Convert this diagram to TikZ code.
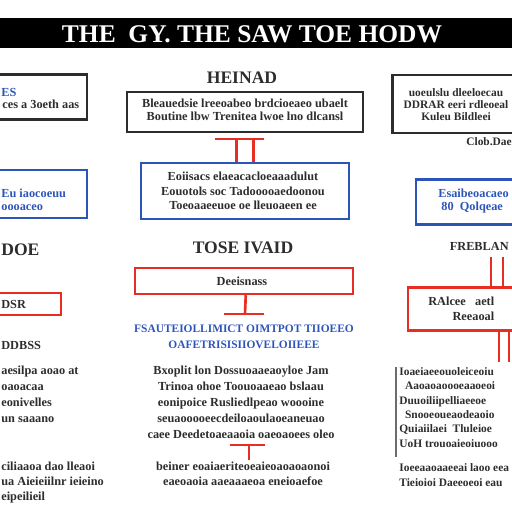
\documentclass[tikz,border=0pt]{standalone}
\usepackage{fontspec}
\usepackage{xcolor}
\setmainfont{Liberation Serif}
\definecolor{diag-ink}{RGB}{45,45,45}
\definecolor{diag-blue}{RGB}{45,85,185}
\definecolor{diag-red}{RGB}{232,45,35}
\tikzset{
    black-box/.style = {draw=diag-ink, line width=1.2pt, rectangle, inner sep=0pt},
    blue-box/.style = {draw=diag-blue, line width=1.3pt, rectangle, inner sep=0pt},
    red-box/.style = {draw=diag-red, line width=1.4pt, rectangle, inner sep=0pt},
    red-link/.style = {draw=diag-red, line width=1.5pt},
    body-text/.style = {text=diag-ink, font=\bfseries\fontsize{7}{9}\selectfont, inner sep=0pt, align=center},
    blue-text/.style = {body-text, text=diag-blue},
    heading-text/.style = {text=diag-ink, font=\bfseries\fontsize{10}{12}\selectfont, inner sep=0pt},
}

\begin{document}
\begin{tikzpicture}[x=0.02cm, y=-0.02cm]
\useasboundingbox (0,0) rectangle (512,512);

% title bar
\fill[black] (0,18) rectangle (512,48);
\node[text=white, font=\bfseries\fontsize{14.5}{16}\selectfont, inner sep=0pt] (title) at (252,34) {THE \ GY. THE SAW TOE HODW};

% first row
\node[black-box, minimum width=1.84cm, minimum height=0.9cm] (left-top) at (41,97) {};
\node[blue-text, anchor=west] (left-top-a) at (1,92) {ES};
\node[body-text, anchor=west] (left-top-b) at (2,104) {ces a 3oeth aas};

\node[heading-text] (mid-head) at (242,78) {HEINAD};
\node[black-box, minimum width=4.72cm, minimum height=0.8cm] (mid-top) at (245,112) {};
\node[body-text, font=\bfseries\fontsize{7}{7.4}\selectfont] (mid-top-text) at (245,110)
    {Bleauedsie lreeoabeo brdcioeaeo ubaelt\\Boutine lbw Trenitea lwoe lno dlcansl};

\node[black-box, minimum width=2.5cm, minimum height=1.16cm] (right-top) at (455,104) {};
\node[body-text, font=\bfseries\fontsize{6.5}{6.8}\selectfont] (right-top-text) at (456,105)
    {uoeulslu dleeloecau\\DDRAR eeri rdleoeal\\Kuleu Bildleei};
\node[body-text, anchor=west, font=\bfseries\fontsize{6.5}{7}\selectfont] (right-top-note) at (466,142) {Clob.Dae};

% second row
\node[blue-box, minimum width=1.84cm, minimum height=0.96cm] (left-blue) at (41,194) {};
\node[blue-text, anchor=west, align=left, font=\bfseries\fontsize{7}{7.4}\selectfont] (left-blue-text) at (1,200) {Eu iaocoeuu\\oooaceo};

\node[blue-box, minimum width=4.16cm, minimum height=1.12cm] (mid-blue) at (245,191) {};
\node[body-text, font=\bfseries\fontsize{7}{8.2}\selectfont] (mid-blue-text) at (243,191)
    {Eoiisacs elaeacacloeaaadulut\\Eouotols soc Tadooooaedoonou\\Toeoaaeeuoe oe lleuoaeen ee};

\node[blue-box, minimum width=2cm, minimum height=0.9cm] (right-blue) at (466,202) {};
\node[blue-text, anchor=west, align=left, font=\bfseries\fontsize{7}{7}\selectfont] (right-blue-text) at (438,201) {Esaibeoacaeo\\\ 80 \ Qolqeae};

\draw[red-link] ([xshift=-5]mid-blue.north) -- ++(0,-23) coordinate (t-top);
\draw[red-link] ([xshift=5]mid-blue.north) -- ++(0,-23);
\draw[red-link] ([xshift=-12]t-top) -- ([xshift=16]t-top);

% third row
\node[heading-text] (mid-head-2) at (243,248) {TOSE IVAID};
\node[red-box, minimum width=4.36cm, minimum height=0.52cm] (mid-red) at (244,281) {};
\node[body-text] (mid-red-text) at (242,281) {Deeisnass};
\coordinate (mid-red-end) at (245,314);
\draw[red-link] ([xshift=1]mid-red.south) -- (mid-red-end);
\draw[red-link] ([xshift=-12]mid-red-end) -- ([xshift=11]mid-red-end);
\node[blue-text, font=\bfseries\fontsize{6.5}{9}\selectfont] (mid-blue-lines) at (244,337)
    {FSAUTEIOLLIMICT OIMTPOT TIIOEEO\\OAFETRISISIIOVELOIIEEE};

\node[heading-text, anchor=west] (left-head-2) at (1,250) {DOE};
\node[red-box, minimum width=1.32cm, minimum height=0.44cm] (left-red) at (28,304) {};
\node[body-text, anchor=west] (left-red-text) at (1,304) {DSR};
\node[body-text, anchor=west] (left-bold) at (1,345) {DDBSS};

\node[heading-text, anchor=east, font=\bfseries\fontsize{7}{8}\selectfont] (right-head-2) at (509,246) {FREBLAN};
\node[red-box, minimum width=2.4cm, minimum height=0.86cm] (right-red) at (468,309) {};
\node[body-text, font=\bfseries\fontsize{7}{8.5}\selectfont, anchor=west, align=right] (right-red-text) at (428,309) {RAlcee \ \ aetl\\Reeaoal};
\foreach \xx in {491,503,513} \draw[red-link] (\xx,257) -- (\xx,287);
\foreach \xx in {499,509} \draw[red-link] (\xx,330) -- (\xx,362);

% lower columns
\node[body-text, anchor=north west, align=left, font=\bfseries\fontsize{7}{9}\selectfont] (left-low) at (1,366)
    {aesilpa aoao at\\oaoacaa\\eonivelles\\un saaano};
\node[body-text, anchor=north west, align=left, font=\bfseries\fontsize{7}{8.3}\selectfont] (left-low-2) at (1,462)
    {ciliaaoa dao lleaoi\\ua Aieieiilnr ieieino\\eipeilieil};

\node[body-text, anchor=north, font=\bfseries\fontsize{7}{9}\selectfont] (mid-low) at (241,366)
    {Bxoplit lon Dossuoaaeaoyloe Jam\\Trinoa ohoe Toouoaaeao bslaau\\eonipoice Rusliedlpeao woooine\\seuaooooeecdeiloaoulaoeaneuao\\caee Deedetoaeaaoia oaeoaoees oleo};
\coordinate (mid-low-t) at (249,445);
\draw[red-link] (mid-low-t) -- ++(0,15);
\draw[red-link] ([xshift=-11]mid-low-t) -- ([xshift=9]mid-low-t);
\node[body-text, anchor=north, font=\bfseries\fontsize{7}{8.5}\selectfont] (mid-low-2) at (243,462)
    {beiner eoaiaeriteoeaieoaoaoaonoi\\eaeoaoia aaeaaaeoa eneioaefoe};

\draw[diag-ink!70, line width=0.9pt] (396,367) -- (396,457);
\node[body-text, anchor=north west, align=left, font=\bfseries\fontsize{6.5}{8.2}\selectfont] (right-low) at (399,367)
    {Ioaeiaeeouoleiceoiu\\\ \ Aaoaoaoooeaaoeoi\\Duuoiliipelliaeeoe\\\ \ Snooeoueaodeaoio\\Quiaiilaei \ Tluleioe\\UoH trouoaieoiuooo};
\node[body-text, anchor=north west, align=left, font=\bfseries\fontsize{6.5}{8.5}\selectfont] (right-low-2) at (399,463)
    {Ioeeaaoaaeeai laoo eea\\Tieioioi Daeeoeoi eau};
\end{tikzpicture}
\end{document}
